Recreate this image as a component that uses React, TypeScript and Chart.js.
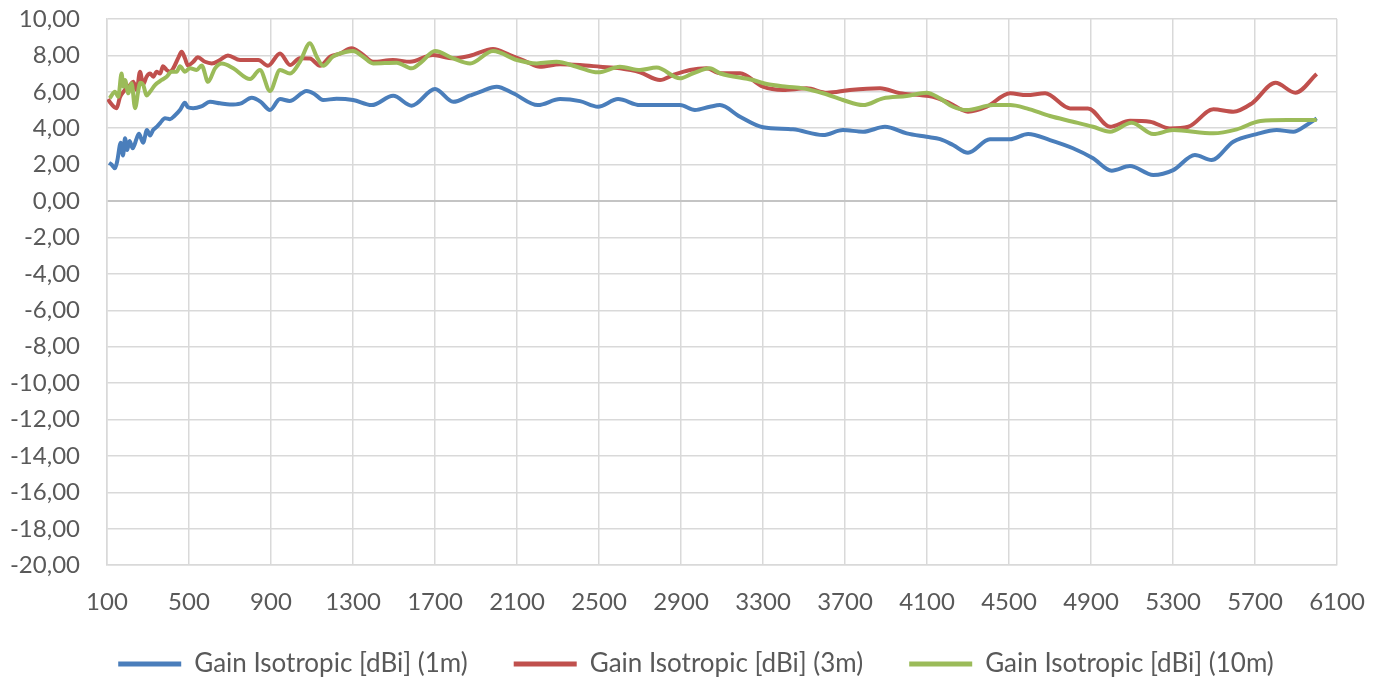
import React, { useEffect, useRef } from "react";
import { Chart, registerables } from "chart.js";

Chart.register(...registerables);

const seriesLabels = [
  "Gain Isotropic [dBi] (1m)",
  "Gain Isotropic [dBi] (3m)",
  "Gain Isotropic [dBi] (10m)",
];
const seriesColors = ["#4A7EBB", "#C0504D", "#9BBB59"];

const freq1m = [110,123,139,150,167,178,188,198,210,225,245,256,276,295,310,325,345,360,383,407,431,456,480,495,520,560,602,651,700,750,806,850,895,944,990,1074,1110,1154,1220,1300,1391,1496,1586,1700,1789,1871,1920,2001,2081,2202,2310,2407,2495,2593,2700,2800,2895,2968,3041,3090,3188,3300,3446,3593,3690,3788,3895,4001,4098,4164,4227,4300,4407,4505,4593,4700,4812,4910,5001,5090,5204,5301,5407,5488,5594,5708,5806,5887,5952,6001];
const gain1m = [2.1,2.0,1.8,2.2,3.2,2.5,3.45,2.8,3.3,2.9,3.45,3.7,3.2,3.9,3.6,3.9,4.1,4.3,4.55,4.5,4.7,5.0,5.4,5.15,5.1,5.2,5.45,5.37,5.3,5.35,5.67,5.45,5.0,5.6,5.5,6.05,5.9,5.55,5.62,5.55,5.27,5.78,5.24,6.15,5.45,5.8,6.0,6.28,5.92,5.27,5.6,5.49,5.18,5.6,5.27,5.27,5.27,5.0,5.18,5.27,4.63,4.05,3.94,3.63,3.9,3.81,4.08,3.72,3.53,3.4,3.08,2.65,3.39,3.39,3.68,3.35,2.9,2.35,1.67,1.92,1.43,1.7,2.53,2.25,3.26,3.68,3.9,3.81,4.18,4.54];

const freq3m = [105,113,147,163,180,196,212,228,245,261,276,293,310,326,342,359,373,391,407,423,447,464,480,495,521,543,578,611,651,690,749,838,885,944,993,1041,1090,1139,1188,1237,1293,1342,1398,1495,1578,1690,1790,1871,1983,2066,2147,2212,2310,2407,2505,2602,2700,2798,2861,2944,3025,3090,3188,3300,3397,3513,3612,3724,3871,3968,4066,4129,4212,4300,4391,4505,4586,4676,4798,4885,4993,5090,5188,5285,5375,5497,5594,5685,5800,5897,6001];
const gain3m = [5.6,5.45,5.1,5.7,6.0,6.2,6.37,6.55,6.1,7.1,6.4,6.83,7.0,6.83,7.1,7.0,7.4,7.2,7.1,7.29,7.85,8.2,7.85,7.45,7.65,7.9,7.65,7.56,7.75,8.0,7.75,7.75,7.43,8.1,7.47,7.85,7.83,7.43,7.93,8.1,8.39,8.1,7.65,7.75,7.65,8.02,7.84,7.98,8.35,8.02,7.65,7.38,7.51,7.47,7.38,7.29,7.07,6.65,6.92,7.2,7.29,7.02,7.02,6.28,6.1,6.19,5.95,6.1,6.19,5.92,5.82,5.73,5.37,4.91,5.18,5.92,5.82,5.92,5.09,5.09,4.08,4.41,4.36,3.99,4.08,5.04,4.91,5.37,6.5,5.95,6.98];

const freq10m = [113,139,155,171,180,188,204,220,237,253,261,277,293,310,334,367,391,415,440,456,480,505,538,562,593,627,660,716,798,846,895,944,993,1041,1090,1123,1154,1202,1269,1300,1349,1398,1513,1586,1635,1700,1789,1871,1983,2100,2196,2293,2391,2495,2602,2700,2781,2895,2959,3041,3090,3251,3318,3416,3495,3593,3690,3788,3885,4001,4098,4163,4227,4293,4422,4505,4586,4700,4812,4910,4993,5098,5204,5301,5497,5611,5727,5857,6001];
const gain10m = [5.65,6.0,5.73,7.0,6.28,6.65,5.92,6.47,5.1,6.1,6.5,6.37,5.8,6.0,6.37,6.65,6.83,7.1,7.1,7.4,7.1,7.3,7.2,7.45,6.55,7.29,7.55,7.29,6.7,7.2,6.05,7.2,7.0,7.65,8.67,7.93,7.43,7.93,8.2,8.24,7.93,7.56,7.6,7.29,7.65,8.24,7.84,7.56,8.24,7.75,7.56,7.65,7.38,7.07,7.38,7.2,7.33,6.74,7.02,7.29,7.02,6.65,6.43,6.28,6.19,5.92,5.55,5.27,5.64,5.77,5.95,5.64,5.18,5.0,5.27,5.27,5.09,4.67,4.36,4.08,3.81,4.3,3.68,3.9,3.72,3.94,4.4,4.45,4.45];

const xMin = 100;
const xMax = 6100;
const xStep = 400;
const yMin = -20;
const yMax = 10;
const yStep = 2;

const toPoints = (fs: number[], vs: number[]) => {
  const n = Math.min(fs.length, vs.length);
  const out: { x: number; y: number }[] = [];
  for (let i = 0; i < n; i++) out.push({ x: fs[i], y: vs[i] });
  return out;
};

const FONT = "Lato, 'Open Sans', sans-serif";
const TEXT = "#595959";
const LEGEND_FONT = 26;
const LEGEND_GAP = 46;
const LEGEND_TEXT_Y = 664;
const LEGEND_LEFT = 7;

// Places the legend row like the reference (its padding also sets the horizontal gap).
const legendPlacer = {
  id: "legendPlacer",
  afterLayout(chart: any) {
    const lg = chart.legend;
    if (!lg) return;
    lg.top = LEGEND_TEXT_Y - LEGEND_GAP - LEGEND_FONT / 2;
    lg.bottom = chart.height;
    lg.left = LEGEND_LEFT;
    lg.right = chart.width;
  },
};

export default function App() {
  const ref = useRef<HTMLCanvasElement | null>(null);
  useEffect(() => {
    if (!ref.current) return;
    const series = [
      toPoints(freq1m, gain1m),
      toPoints(freq3m, gain3m),
      toPoints(freq10m, gain10m),
    ];
    const chart = new Chart(ref.current, {
      type: "line",
      plugins: [legendPlacer],
      data: {
        datasets: series.map((pts, i) => ({
          label: seriesLabels[i],
          data: pts,
          borderColor: seriesColors[i],
          backgroundColor: seriesColors[i],
          borderWidth: 4,
          pointRadius: 0,
          fill: false,
          cubicInterpolationMode: "monotone" as const,
          order: 2 - i,
        })),
      },
      options: {
        animation: false,
        responsive: true,
        maintainAspectRatio: false,
        layout: { padding: { left: 0, top: 19, right: 48, bottom: 0 } },
        plugins: {
          tooltip: { enabled: false },
          legend: {
            position: "bottom",
            maxHeight: 67,
            labels: {
              boxWidth: 63,
              boxHeight: 5,
              padding: LEGEND_GAP,
              color: TEXT,
              font: { family: FONT, size: LEGEND_FONT },
              sort: (a: any, b: any) => a.datasetIndex - b.datasetIndex,
              generateLabels: (c: any) =>
                Chart.defaults.plugins.legend.labels
                  .generateLabels(c)
                  .map((l: any) => ({ ...l, lineWidth: 0, fillStyle: l.strokeStyle })),
            },
          },
        },
        scales: {
          x: {
            type: "linear",
            min: xMin,
            max: xMax,
            ticks: {
              stepSize: xStep,
              padding: 0,
              color: TEXT,
              font: { family: FONT, size: 24 },
              maxRotation: 0,
              autoSkip: false,
              callback: (v: any) => String(v),
            },
            grid: {
              color: "#D9D9D9",
              lineWidth: 1.5,
              drawTicks: true,
              tickLength: 23,
              tickColor: "rgba(0,0,0,0)",
            },
            border: { color: "#D9D9D9", width: 1.5 },
          },
          y: {
            min: yMin,
            max: yMax,
            afterFit: (s: any) => {
              s.width = 107;
            },
            ticks: {
              stepSize: yStep,
              padding: 0,
              color: TEXT,
              font: { family: FONT, size: 24 },
              callback: (v: any) => Number(v).toFixed(2).replace(".", ","),
            },
            grid: {
              color: (ctx: any) => (ctx.tick && ctx.tick.value === 0 ? "#C4C4C4" : "#D9D9D9"),
              lineWidth: (ctx: any) => (ctx.tick && ctx.tick.value === 0 ? 2 : 1.5),
              drawTicks: true,
              tickLength: 27,
              tickColor: "rgba(0,0,0,0)",
            },
            border: { color: "#D9D9D9", width: 1.5 },
          },
        },
      },
    });
    return () => chart.destroy();
  }, []);

  return (
    <div style={{ position: "fixed", left: 0, top: 0, width: 1385, height: 684, background: "#fff" }}>
      <canvas ref={ref} />
    </div>
  );
}
